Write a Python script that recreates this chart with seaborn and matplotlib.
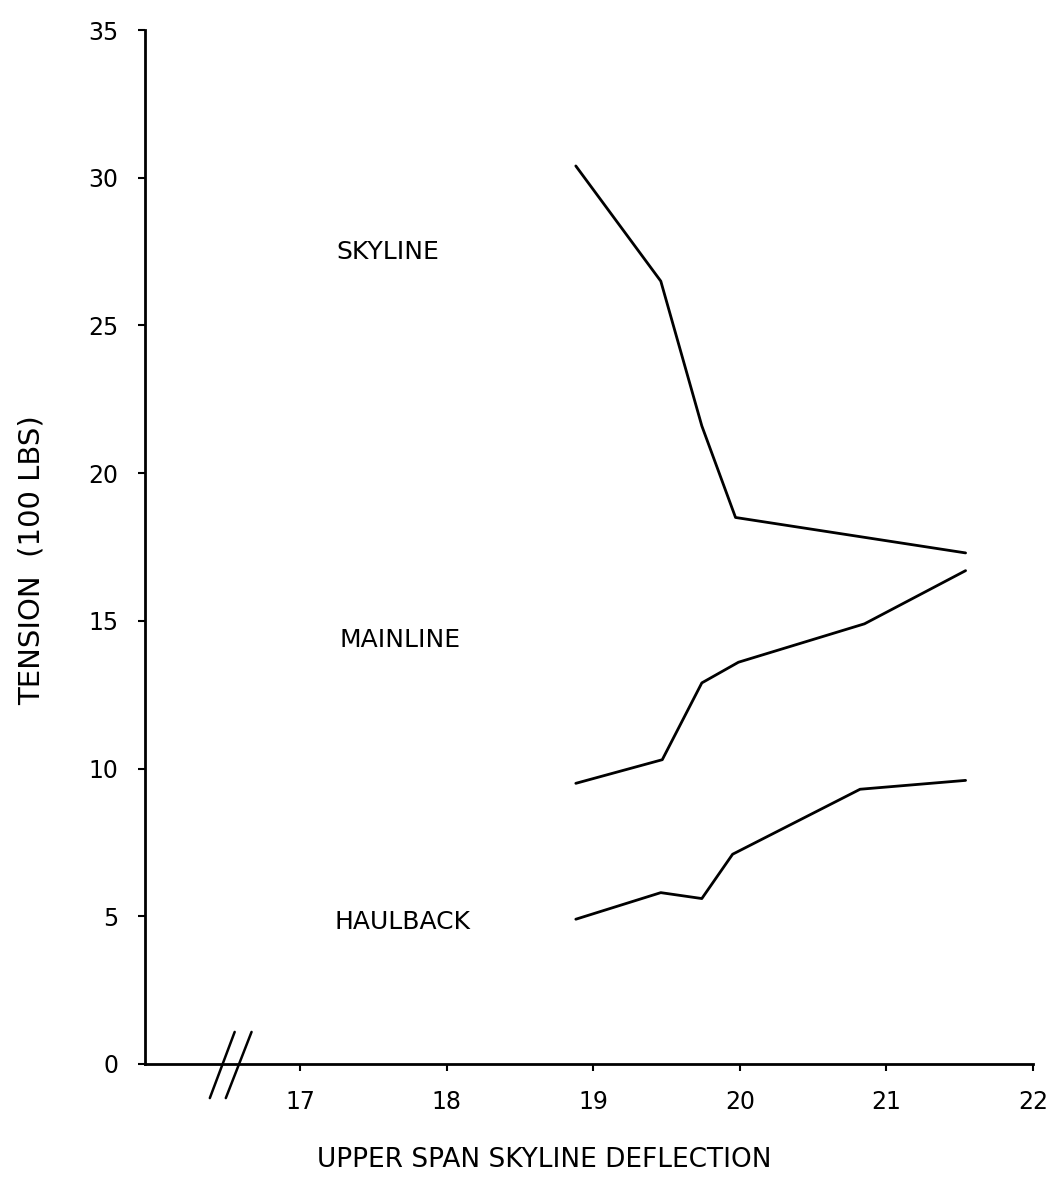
import matplotlib
matplotlib.use("Agg")
import matplotlib.pyplot as plt
import seaborn as sns
import pandas as pd

# ---- data ----
skyline_x = [18.88, 19.46, 19.74, 19.97, 21.54]
skyline_y = [30.4, 26.5, 21.6, 18.5, 17.3]

mainline_x = [18.88, 19.47, 19.74, 19.99, 20.85, 21.54]
mainline_y = [9.5, 10.3, 12.9, 13.6, 14.9, 16.7]

haulback_x = [18.88, 19.46, 19.74, 19.95, 20.82, 21.54]
haulback_y = [4.9, 5.8, 5.6, 7.1, 9.3, 9.6]

series_names = ["SKYLINE", "MAINLINE", "HAULBACK"]
label_x = [17.6, 17.68, 17.7]
label_y = [27.5, 14.35, 4.8]

x_ticks = [17, 18, 19, 20, 21, 22]
y_ticks = [0, 5, 10, 15, 20, 25, 30, 35]

x_title = "UPPER SPAN SKYLINE DEFLECTION"
y_title = "TENSION  (100 LBS)"

frames = []
for name, xs, ys in zip(series_names,
                        [skyline_x, mainline_x, haulback_x],
                        [skyline_y, mainline_y, haulback_y]):
    frames.append(pd.DataFrame({"deflection": xs, "tension": ys, "series": name}))
df = pd.concat(frames, ignore_index=True)

sns.set_theme(style="ticks")
plt.rcParams["font.family"] = ["DejaVu Sans"]

fig = plt.figure(figsize=(10.53, 11.88), dpi=100)
ax = fig.add_axes([0.1377, 0.1044, 0.8433, 0.8703])

sns.lineplot(data=df, x="deflection", y="tension", hue="series",
             palette=["black"] * 3, legend=False, sort=False,
             estimator=None, linewidth=2.0, ax=ax)

ax.set_xlim(15.94, 22)
ax.set_ylim(0, 35)
ax.set_xticks(x_ticks)
ax.set_yticks(y_ticks)
ax.set_xticklabels([str(t) for t in x_ticks], fontsize=17)
ax.set_yticklabels([str(t) for t in y_ticks], fontsize=17)
ax.tick_params(axis="both", direction="out", length=5, width=1.5,
               color="black", labelcolor="black", pad=14)

for side in ["top", "right"]:
    ax.spines[side].set_visible(False)
for side in ["left", "bottom"]:
    ax.spines[side].set_color("black")
    ax.spines[side].set_linewidth(2.0)

ax.set_xlabel(x_title, fontsize=19, color="black")
ax.set_ylabel(y_title, fontsize=21, color="black")
ax.xaxis.set_label_coords(0.45, -0.093)
ax.yaxis.set_label_coords(-0.128, 0.487)
ax.xaxis.label.set_va("center")
ax.yaxis.label.set_va("center")

for name, lx, ly in zip(series_names, label_x, label_y):
    ax.text(lx, ly, name, fontsize=18, ha="center", va="center", color="black")

# axis-break marks
for x0, x1 in [(0.073, 0.101), (0.091, 0.120)]:
    ax.plot([x0, x1], [-0.033, 0.031], transform=ax.transAxes,
            color="black", linewidth=1.8, clip_on=False)

fig.savefig("out.png", dpi=100)
